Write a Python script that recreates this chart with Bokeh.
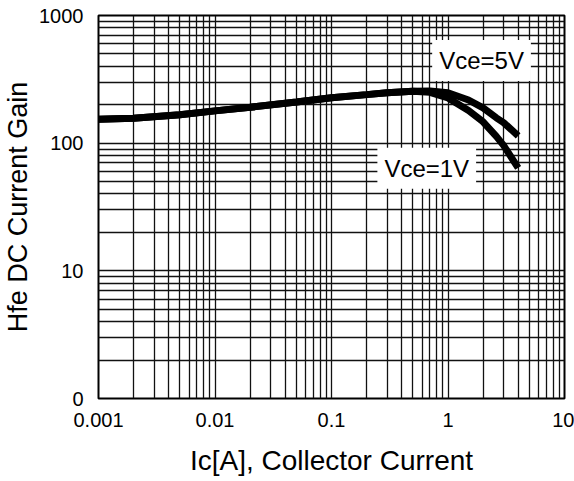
from bokeh.plotting import figure
from bokeh.models import Range1d, FixedTicker, CustomJSTickFormatter, Label
from bokeh.embed import file_html
from bokeh.resources import INLINE

# ---- data ----
ic_a = [0.001, 0.002, 0.005, 0.01, 0.02, 0.05, 0.1, 0.2, 0.3, 0.5, 0.7, 1.0, 1.5, 2.0, 2.6, 3.0, 4.0]
hfe_5v = [154, 157, 167, 179, 191, 210, 227, 240, 248, 255, 256, 248, 218, 189, 158, 145, 114]
hfe_1v = [154, 157, 167, 179, 191, 210, 227, 240, 248, 255, 250, 226, 180, 147, 113, 96, 64]

x_ticks = [0.001, 0.01, 0.1, 1, 10]
y_ticks = [1, 10, 100, 1000]
mantissas = [2, 3, 4, 5, 6, 7, 8, 9]

label_5v = ("Vce=5V", 1.94, 445)
label_1v = ("Vce=1V", 0.657, 63.5)

FONT = "Liberation Sans"

p = figure(width=574, height=481, x_axis_type="log", y_axis_type="log",
           x_range=Range1d(0.001, 10), y_range=Range1d(1, 1000),
           output_backend="svg", toolbar_location=None,
           min_border_left=97, min_border_right=10, min_border_top=15, min_border_bottom=83)

p.background_fill_color = "white"
p.border_fill_color = "white"
p.outline_line_color = "black"
p.outline_line_width = 2

x_minor = [m * d for d in x_ticks[:-1] for m in mantissas]
y_minor = [m * d for d in y_ticks[:-1] for m in mantissas]
p.xaxis.ticker = FixedTicker(ticks=x_ticks, minor_ticks=x_minor)
p.yaxis.ticker = FixedTicker(ticks=y_ticks, minor_ticks=y_minor)
p.xaxis.formatter = CustomJSTickFormatter(code="return tick.toString();")
p.yaxis.formatter = CustomJSTickFormatter(code="return tick == 1 ? '0' : tick.toString();")

for ax in (p.xaxis, p.yaxis):
    ax.axis_line_color = None
    ax.major_tick_line_color = None
    ax.minor_tick_line_color = None
    ax.major_label_text_font = FONT
    ax.major_label_text_font_size = "20px"
    ax.major_label_text_color = "black"
    ax.axis_label_text_font = FONT
    ax.axis_label_text_font_style = "normal"
    ax.axis_label_text_color = "black"

p.xaxis.axis_label_text_font_size = "28px"
p.yaxis.axis_label_text_font_size = "27px"
p.xaxis.major_label_standoff = 8
p.yaxis.major_label_standoff = 9
p.xaxis.axis_label = "Ic[A], Collector Current"
p.yaxis.axis_label = "Hfe DC Current Gain"
p.xaxis.axis_label_standoff = 15
p.yaxis.axis_label_standoff = 3

for g in (p.xgrid, p.ygrid):
    g.grid_line_color = "#111111"
    g.grid_line_width = 1.3
    g.grid_line_alpha = 1.0
    g.minor_grid_line_color = "#111111"
    g.minor_grid_line_width = 1.3
    g.minor_grid_line_alpha = 1.0

p.line(ic_a, hfe_5v, line_color="black", line_width=7)
p.line(ic_a, hfe_1v, line_color="black", line_width=7)

for txt, lx, ly in (label_5v, label_1v):
    p.add_layout(Label(x=lx, y=ly, text=txt, text_align="center", text_baseline="middle",
                       text_font=FONT, text_font_size="24px", text_color="black",
                       background_fill_color="white", background_fill_alpha=1.0,
                       padding=7))

open("out.html", "w").write(file_html(p, INLINE))
